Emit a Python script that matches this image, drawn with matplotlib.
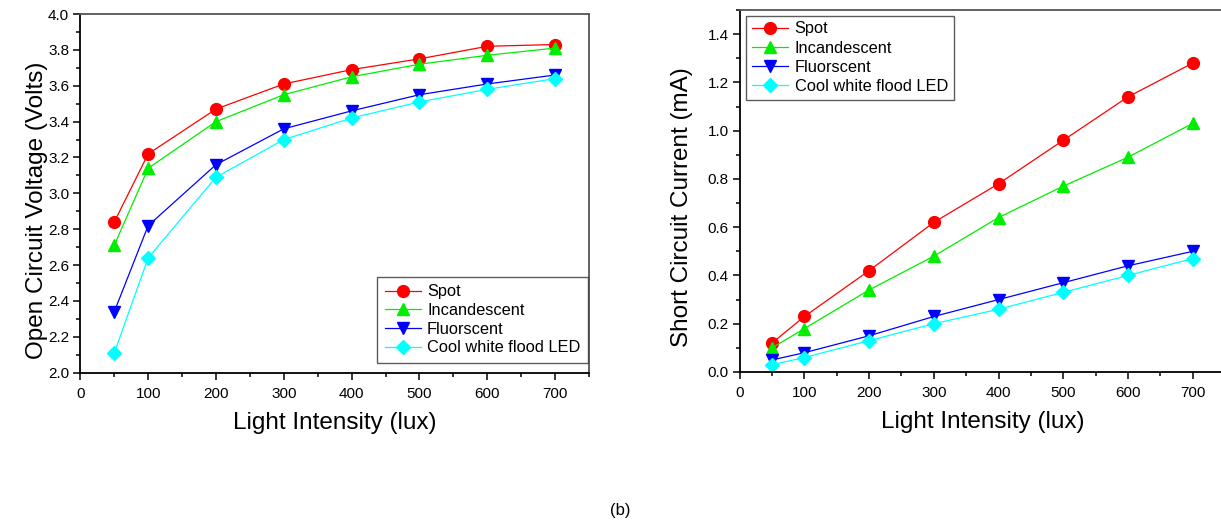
import numpy as np
import matplotlib
matplotlib.use('Agg')
import matplotlib.pyplot as plt
from matplotlib.ticker import MultipleLocator

plt.rcParams['font.family'] = ['Liberation Sans', 'DejaVu Sans']

# dados
lux = [50, 100, 200, 300, 400, 500, 600, 700]
nomes = ['Spot', 'Incandescent', 'Fluorscent', 'Cool white flood LED']

voc_spot = [2.84, 3.22, 3.47, 3.61, 3.69, 3.75, 3.82, 3.83]
voc_incand = [2.71, 3.14, 3.40, 3.55, 3.65, 3.72, 3.77, 3.81]
voc_fluor = [2.34, 2.82, 3.16, 3.36, 3.46, 3.55, 3.61, 3.66]
voc_led = [2.11, 2.64, 3.09, 3.30, 3.42, 3.51, 3.58, 3.64]

isc_spot = [0.12, 0.23, 0.42, 0.62, 0.78, 0.96, 1.14, 1.28]
isc_incand = [0.10, 0.18, 0.34, 0.48, 0.64, 0.77, 0.89, 1.03]
isc_fluor = [0.05, 0.08, 0.15, 0.23, 0.30, 0.37, 0.44, 0.50]
isc_led = [0.03, 0.06, 0.13, 0.20, 0.26, 0.33, 0.40, 0.47]

cores = ['#ff0000', '#00ee00', '#0000ff', '#00ffff']
marcadores = ['o', '^', 'v', 'D']
tamanhos = [8.5, 9, 9, 7.5]

fig = plt.figure(figsize=(12.21, 5.21), dpi=100)

ax1 = fig.add_axes([0.0658, 0.2846, 0.4166, 0.6885])
ax2 = fig.add_axes([0.6058, 0.286, 0.3975, 0.6948])


def desenha(ax, series, ylabel, ylim):
    for y, nome, c, m, s in zip(series, nomes, cores, marcadores, tamanhos):
        ax.plot(lux, y, color=c, marker=m, markersize=s, lw=0.9,
                markeredgecolor=c, label=nome)
    ax.set_xlim(0, 750)
    ax.xaxis.set_minor_locator(MultipleLocator(50))
    ax.yaxis.set_minor_locator(MultipleLocator(0.1))
    ax.set_xticks(np.arange(0, 701, 100))
    ax.set_xticklabels([str(v) for v in range(0, 701, 100)], fontsize=11)
    yt = np.arange(ylim[0], ylim[1] + 0.001, 0.2)
    ax.set_yticks(yt)
    ax.set_yticklabels([f'{v:.1f}' for v in yt], fontsize=11)
    ax.set_ylim(*ylim)
    ax.tick_params(which='major', length=5, width=1.1, pad=3)
    ax.tick_params(axis='x', which='major', pad=5)
    ax.tick_params(which='minor', length=3, width=1.1)
    ax.tick_params(top=False, right=False, which='both')
    for lado in ['left', 'bottom']:
        ax.spines[lado].set_linewidth(1.3)
        ax.spines[lado].set_color('black')
    for lado in ['top', 'right']:
        ax.spines[lado].set_linewidth(1.3)
        ax.spines[lado].set_color('#555555')
    ax.set_xlabel('Light Intensity (lux)', fontsize=17.5, labelpad=8)
    ax.set_ylabel(ylabel, fontsize=17.5)


desenha(ax1, [voc_spot, voc_incand, voc_fluor, voc_led],
        'Open Circuit Voltage (Volts)', (2.0, 4.0))
desenha(ax2, [isc_spot, isc_incand, isc_fluor, isc_led],
        'Short Circuit Current (mA)', (0.0, 1.5))

# rotulo do eixo y um pouco abaixo do centro (como no original)
ax1.yaxis.set_label_coords(-0.0635, 0.4536)
ax2.yaxis.set_label_coords(-0.0962, 0.456)
ax2.spines['right'].set_visible(False)

# legendas
leg1 = ax1.legend(loc='lower right', bbox_to_anchor=(0.9975, 0.028),
                  fontsize=11.8, frameon=True, fancybox=False,
                  edgecolor='#333333', handlelength=2.2, borderpad=0.45,
                  labelspacing=0.22, handletextpad=0.4, borderaxespad=0)
leg1.get_frame().set_linewidth(1.0)
leg2 = ax2.legend(loc='upper left', bbox_to_anchor=(0.0136, 0.9843),
                  fontsize=11.8, frameon=True, fancybox=False,
                  edgecolor='#333333', handlelength=2.2, borderpad=0.35,
                  labelspacing=0.26, handletextpad=0.4, borderaxespad=0)
leg2.get_frame().set_linewidth(1.0)

fig.text(0.508, 0.005, '(b)', fontsize=12, ha='center', va='bottom')

fig.savefig('out.png', dpi=100)
